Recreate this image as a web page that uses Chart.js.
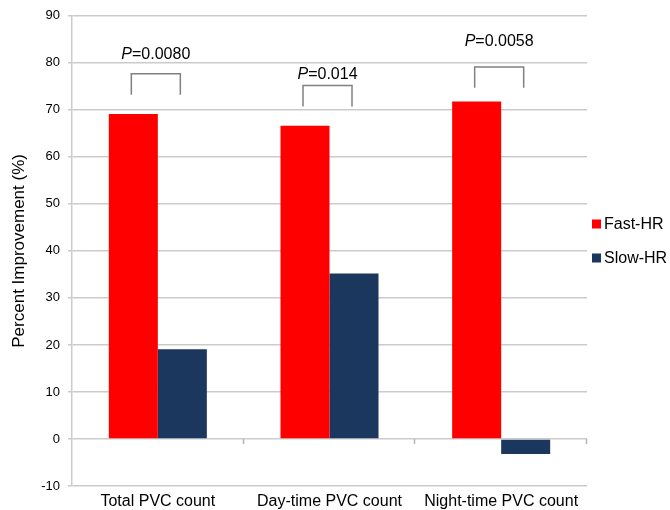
<!DOCTYPE html>
<html>
<head>
<meta charset="utf-8">
<script src="https://cdn.jsdelivr.net/npm/chart.js@4.4.0/dist/chart.umd.min.js"></script>
<style>
    html, body { margin: 0; padding: 0; background: #fff; }
    canvas { display: block; }
</style>
</head>
<body>
<canvas id="chart" width="670" height="510"></canvas>
<script>
// data
const categories = ['Total PVC count', 'Day-time PVC count', 'Night-time PVC count'];
const fastHR = [69.1, 66.6, 71.8];
const slowHR = [19.1, 35.2, -3.2];
const yMin = -10;
const yMax = 90;
const yStep = 10;

// significance brackets (values in y units)
const pValues = ['0.0080', '0.014', '0.0058'];
const pTextY = [80.8, 76.5, 83.6];
const bracketTop = [77.7, 75.2, 79.1];
const bracketBottom = [73.2, 70.7, 74.7];

const FONT = '"Liberation Sans", Arial, sans-serif';
const GRID = '#cbcbcb';

// tick marks on the zero line, between categories
const zeroTicks = {
    id: 'zeroTicks',
    afterDatasetsDraw(chart) {
        const ctx = chart.ctx;
        const x = chart.scales.x;
        const y0 = chart.scales.y.getPixelForValue(0);
        const w = (chart.chartArea.right - chart.chartArea.left) / categories.length;
        ctx.save();
        ctx.strokeStyle = '#b5b5b5';
        ctx.lineWidth = 1.5;
        for (let i = 1; i <= categories.length; i++) {
            const px = Math.round(chart.chartArea.left + i * w) - 0.5;
            ctx.beginPath();
            ctx.moveTo(px, y0);
            ctx.lineTo(px, y0 + 5);
            ctx.stroke();
        }
        ctx.restore();
    }
};

// brackets and P labels
const brackets = {
    id: 'brackets',
    afterDraw(chart) {
        const ctx = chart.ctx;
        const ys = chart.scales.y;
        const m0 = chart.getDatasetMeta(0).data;
        const m1 = chart.getDatasetMeta(1).data;
        ctx.save();
        ctx.strokeStyle = '#808080';
        ctx.lineWidth = 1.5;
        ctx.fillStyle = '#000';
        ctx.textBaseline = 'alphabetic';
        pValues.forEach((p, i) => {
            const x1 = m0[i].x - 2;
            const x2 = m1[i].x - 2;
            const yt = ys.getPixelForValue(bracketTop[i]);
            const yb = ys.getPixelForValue(bracketBottom[i]);
            ctx.beginPath();
            ctx.moveTo(x1, yb);
            ctx.lineTo(x1, yt);
            ctx.lineTo(x2, yt);
            ctx.lineTo(x2, yb);
            ctx.stroke();

            const cx = (x1 + x2) / 2;
            const ty = ys.getPixelForValue(pTextY[i]);
            ctx.font = 'italic 16px ' + FONT;
            const wP = ctx.measureText('P').width;
            ctx.font = '16px ' + FONT;
            const rest = '=' + p;
            const wR = ctx.measureText(rest).width;
            const sx = cx - (wP + wR) / 2;
            ctx.font = 'italic 16px ' + FONT;
            ctx.fillText('P', sx, ty);
            ctx.font = '16px ' + FONT;
            ctx.fillText(rest, sx + wP, ty);
        });
        ctx.restore();
    }
};

// legend on the right
const sideLegend = {
    id: 'sideLegend',
    afterDraw(chart) {
        const ctx = chart.ctx;
        const x = chart.chartArea.right + 5;
        const rows = [224, 258];
        ctx.save();
        ctx.font = '16px ' + FONT;
        ctx.textBaseline = 'middle';
        chart.data.datasets.forEach((ds, i) => {
            ctx.fillStyle = ds.backgroundColor;
            ctx.fillRect(x, rows[i] - 4.5, 9, 9);
            ctx.fillStyle = '#000';
            ctx.fillText(ds.label, x + 12, rows[i] + 1);
        });
        ctx.restore();
    }
};

new Chart(document.getElementById('chart'), {
    type: 'bar',
    data: {
        labels: categories,
        datasets: [
            { label: 'Fast-HR', data: fastHR, backgroundColor: '#ff0000' },
            { label: 'Slow-HR', data: slowHR, backgroundColor: '#1b375e' }
        ]
    },
    options: {
        responsive: false,
        animation: false,
        devicePixelRatio: 1,
        layout: { padding: { top: 15, right: 83, left: 0, bottom: 0 } },
        categoryPercentage: 0.571,
        barPercentage: 1,
        plugins: {
            legend: { display: false },
            tooltip: { enabled: false }
        },
        scales: {
            x: {
                grid: { display: false, drawTicks: false },
                border: { display: false },
                ticks: {
                    color: '#000',
                    padding: 6,
                    maxRotation: 0,
                    font: { family: FONT, size: 16 }
                },
                afterFit(scale) { scale.height = 24; }
            },
            y: {
                min: yMin,
                max: yMax,
                ticks: {
                    stepSize: yStep,
                    color: '#000',
                    padding: 8,
                    font: { family: FONT, size: 13 }
                },
                grid: { color: GRID, lineWidth: 1.5, tickLength: 4 },
                border: { color: GRID, width: 1.5 },
                title: {
                    display: true,
                    text: 'Percent Improvement (%)',
                    color: '#000',
                    padding: { top: 9, bottom: 0 },
                    font: { family: FONT, size: 17 }
                },
                afterFit(scale) { scale.width = 72; }
            }
        }
    },
    plugins: [zeroTicks, brackets, sideLegend]
});
</script>
</body>
</html>
